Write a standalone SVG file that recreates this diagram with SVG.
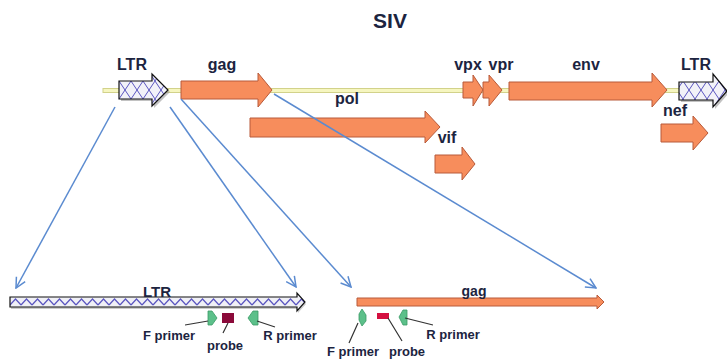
<svg xmlns="http://www.w3.org/2000/svg" width="727" height="360" viewBox="0 0 727 360">
  <defs>
    <pattern id="hatch" patternUnits="userSpaceOnUse" width="12" height="18" x="119" y="81">
      <rect width="12" height="18" fill="#f2f2f8"/>
      <path d="M0,0 L12,18 M12,0 L0,18" stroke="#5a55c0" stroke-width="1"/>
    </pattern>
    <pattern id="zigzag" patternUnits="userSpaceOnUse" width="11" height="10" x="10" y="297">
      <rect width="11" height="10" fill="#f0f0f6"/>
      <path d="M0,8 L5.5,2 L11,8" fill="none" stroke="#5a55c0" stroke-width="1.2"/>
    </pattern>
    <marker id="open" viewBox="0 0 12 12" refX="11" refY="6" markerWidth="12" markerHeight="12" markerUnits="userSpaceOnUse" orient="auto">
      <path d="M1,1 L11,6 L1,11" fill="none" stroke="#5b8bd0" stroke-width="1.5"/>
    </marker>
  </defs>
  <style>
    .lbl { font-family: "Liberation Sans", Arial, sans-serif; font-weight: bold; fill: #1c2440; text-anchor: middle; }
    .big { font-size: 16px; }
    .small { font-size: 13px; }
    .gene { fill: #f78d5c; stroke: #b85a3a; stroke-width: 1; }
    .ltr { fill: url(#hatch); stroke: #111; stroke-width: 1.2; }
    .shadow { fill: #999; opacity: 0.6; }
    .primer { fill: #5cc08a; stroke: #3a9a66; stroke-width: 0.8; }
    .lead { stroke: #333; stroke-width: 1.2; fill: none; }
    .conn { stroke: #5b8bd0; stroke-width: 1.5; fill: none; marker-end: url(#open); }
  </style>

  <!-- title -->
  <text class="lbl" x="390" y="28" style="font-size:21px">SIV</text>

  <!-- genome backbone -->
  <rect x="103" y="88.5" width="617" height="4" fill="#f6f6c0" stroke="#d2d28a" stroke-width="1"/>

  <g id="ltr5">
    <polygon class="shadow" points="121,83 154,83 154,76 170,92 154,108 154,101 121,101"/>
    <polygon class="ltr" points="119,81 152,81 152,74 168,90 152,106 152,99 119,99"/>
    <text class="lbl big" x="132" y="70">LTR</text>
  </g>
  <g id="gag">
    <polygon class="gene" points="181,81 258,81 258,73 272,90 258,107 258,99 181,99"/>
    <text class="lbl big" x="222" y="70">gag</text>
  </g>
  <g id="pol">
    <polygon class="gene" points="250,118 425,118 425,111 440,127 425,143 425,137 250,137"/>
    <text class="lbl big" x="347" y="104">pol</text>
  </g>
  <g id="vif">
    <polygon class="gene" points="435,155 462,155 462,147 475,164 462,180 462,173 435,173"/>
    <text class="lbl big" x="447" y="143">vif</text>
  </g>
  <g id="vpx">
    <polygon class="gene" points="463,82 473,82 473,75 483,90 473,106 473,98 463,98"/>
    <text class="lbl big" x="468" y="70">vpx</text>
  </g>
  <g id="vpr">
    <polygon class="gene" points="483,82 489,82 489,75 502,90 489,106 489,98 483,98"/>
    <text class="lbl big" x="501" y="70">vpr</text>
  </g>
  <g id="env">
    <polygon class="gene" points="509,82 652,82 652,73 667,90 652,107 652,100 509,100"/>
    <text class="lbl big" x="586" y="70">env</text>
  </g>
  <g id="nef">
    <polygon class="gene" points="661,124 693,124 693,116 708,133 693,150 693,142 661,142"/>
    <text class="lbl big" x="675" y="116">nef</text>
  </g>
  <g id="ltr3">
    <polygon class="shadow" points="681,84 715,84 715,76 729,93 715,109 715,102 681,102"/>
    <polygon class="ltr" points="679,82 713,82 713,74 727,91 713,107 713,100 679,100"/>
    <text class="lbl big" x="696" y="70">LTR</text>
  </g>

  <!-- expanded LTR with assay -->
  <g id="ltr-detail">
    <polygon fill="#aaa" opacity="0.6" points="11,299 298,299 298,295 306,304 298,313 298,309 11,309"/>
    <polygon fill="url(#zigzag)" stroke="#111" stroke-width="1.2" points="10,297 297,297 297,293 305,302 297,311 297,307 10,307"/>
    <text class="lbl" x="157" y="297" style="font-size:15px">LTR</text>
  </g>
  <g id="ltr-assay">
    <polygon class="primer" points="208,311 212,311 217,318 212,325 208,325"/>
    <rect x="222" y="313" width="12" height="10" fill="#8b0a3a"/>
    <polygon class="primer" points="258,311 253,311 248,318 253,325 258,325"/>
    <path class="lead" d="M185,325 L208,321 M228,323 L223,333 M257,321 L275,327"/>
    <text class="lbl small" x="169" y="340">F primer</text>
    <text class="lbl small" x="225" y="350">probe</text>
    <text class="lbl small" x="290" y="340">R primer</text>
  </g>

  <!-- expanded gag with assay -->
  <g id="gag-detail">
    <polygon class="gene" points="357,298 597,298 597,295 604,302 597,309 597,306 357,306"/>
    <text class="lbl" x="474" y="296" style="font-size:14px">gag</text>
  </g>
  <g id="gag-assay">
    <polygon class="primer" points="362,309 366,315 366,321 362,326 359,320 359,314"/>
    <rect x="377" y="313" width="12" height="6" fill="#d41040"/>
    <polygon class="primer" points="407,310 403,310 399,317 403,325 407,325"/>
    <path class="lead" d="M358,323 L349,343 M388,318 L402,341 M405,318 L433,325"/>
    <text class="lbl small" x="353" y="356">F primer</text>
    <text class="lbl small" x="407" y="356">probe</text>
    <text class="lbl small" x="453" y="339">R primer</text>
  </g>

  <!-- connectors -->
  <g id="connectors">
    <line class="conn" x1="115" y1="107" x2="16" y2="288"/>
    <line class="conn" x1="170" y1="107" x2="296" y2="287"/>
    <line class="conn" x1="181" y1="99" x2="351" y2="287"/>
    <line class="conn" x1="274" y1="94" x2="596" y2="288"/>
  </g>
</svg>
